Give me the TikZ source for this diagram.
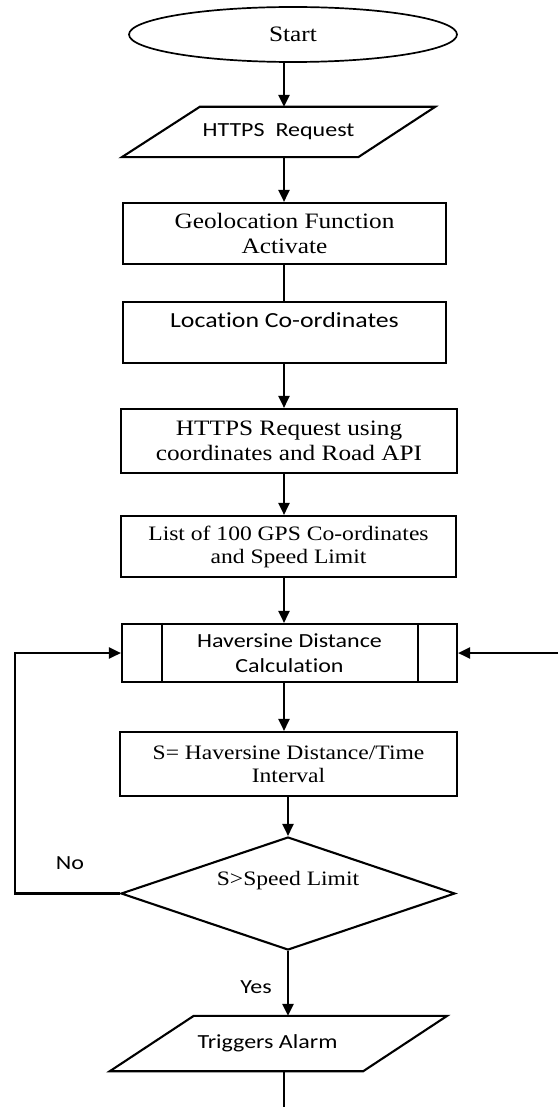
\documentclass[tikz,border=0pt]{standalone}
\usepackage{fontspec}
\setmainfont{Liberation Serif}[FakeStretch=1.15]
\newfontfamily\sansw{Carlito}[FakeStretch=1.2, RawFeature={-liga}]
\usetikzlibrary{shapes.geometric,arrows.meta,calc}
\tikzset{
  serifbig/.style={font=\fontsize{22}{25}\selectfont},
  serifmid/.style={font=\fontsize{20.5}{23}\selectfont},
  sanstxt/.style={font=\sansw\fontsize{20}{25}\selectfont},
  sansbig/.style={font=\sansw\fontsize{21.5}{25}\selectfont},
  procbox/.style={draw, rectangle, line width=2.1pt, inner sep=0pt, align=center},
  iobox/.style={rectangle, inner sep=0pt, align=center},
  shapeline/.style={line width=2.1pt, line join=miter},
  arr/.style={line width=2.4pt, -{Triangle[length=12pt,width=11pt]}},
  plainline/.style={line width=2.4pt},
}
\begin{document}
\begin{tikzpicture}[x=1pt,y=-1pt]
\fill[white] (0,0) rectangle (558,1107);
\useasboundingbox (0,0) rectangle (558,1107);

% nodes
\node[ellipse, draw, line width=1.7pt, minimum width=328pt, minimum height=55pt, inner sep=0pt, serifbig] (start) at (293,34.5) {Start};

\node[iobox, minimum width=313pt, minimum height=50pt, sanstxt] (req) at (278.5,132) {HTTPS\ \ Request};
\draw[shapeline] ($(req.north west)+(78,0)$) -- (req.north east) -- ($(req.south east)+(-77,0)$) -- (req.south west) -- cycle;

\node[procbox, minimum width=323pt, minimum height=61pt, serifbig] (geo) at (284.5,233.5) {Geolocation Function\\Activate};

\node[procbox, minimum width=323pt, minimum height=61pt, sansbig] (loc) at (284.5,332.5) {\raisebox{5pt}[0pt][0pt]{Location Co-ordinates}};

\node[procbox, minimum width=336pt, minimum height=64pt, serifbig] (api) at (289,441) {HTTPS Request using\\coordinates and Road API};

\node[procbox, minimum width=335pt, minimum height=61pt, serifmid] (list) at (288.5,546.5) {List of 100 GPS Co-ordinates\\and Speed Limit};

\node[procbox, minimum width=335pt, minimum height=58pt, sanstxt] (hav) at (289.5,653) {Haversine Distance\\Calculation};
\draw[shapeline] ($(hav.north west)+(41,0)$) -- ($(hav.south west)+(41,0)$);
\draw[shapeline] ($(hav.north east)+(-40,0)$) -- ($(hav.south east)+(-40,0)$);

\node[procbox, minimum width=337pt, minimum height=64pt, serifmid] (sbox) at (288.5,764) {S= Haversine Distance/Time\\Interval};

\node[diamond, draw, line width=2.1pt, shape aspect=3, minimum width=334pt, minimum height=113pt, inner sep=0pt, serifmid] (dia) at (288,893.5) {\raisebox{8pt}[0pt][0pt]{S>Speed Limit}};

\node[iobox, minimum width=337pt, minimum height=55pt, sanstxt] (trig) at (278.5,1043.5) {\hspace*{-22pt}Triggers Alarm};
\draw[shapeline] ($(trig.north west)+(84,0)$) -- (trig.north east) -- ($(trig.south east)+(-84,0)$) -- (trig.south west) -- cycle;

\node[sanstxt, inner sep=0pt] (nolab) at (70,863) {No};
\node[sanstxt, inner sep=0pt] (yeslab) at (256,987) {Yes};

% helper coordinates
\coordinate (ax) at (284,0);
\coordinate (lx) at (15,0);
\coordinate (rin) at (558,653);
\coordinate (bot) at (284,1107);

% connectors
\draw[arr] (start.south -| ax) -- (req.north -| ax);
\draw[arr] (req.south -| ax) -- (geo.north -| ax);
\draw[plainline] (geo.south -| ax) -- (loc.north -| ax);
\draw[arr] (loc.south -| ax) -- (api.north -| ax);
\draw[arr] (api.south -| ax) -- (list.north -| ax);
\draw[arr] (list.south -| ax) -- (hav.north -| ax);
\draw[arr] (hav.south -| ax) -- (sbox.north -| ax);
\draw[arr] (sbox.south -| dia.north) -- (dia.north);
\draw[arr, line join=miter] (dia.west) -- (dia.west -| lx) -- (hav.west -| lx) -- (hav.west);
\draw[arr] (rin) -- (hav.east);
\draw[arr] (dia.south) -- (trig.north -| dia.south);
\draw[plainline] (trig.south -| ax) -- (bot);
\end{tikzpicture}
\end{document}
